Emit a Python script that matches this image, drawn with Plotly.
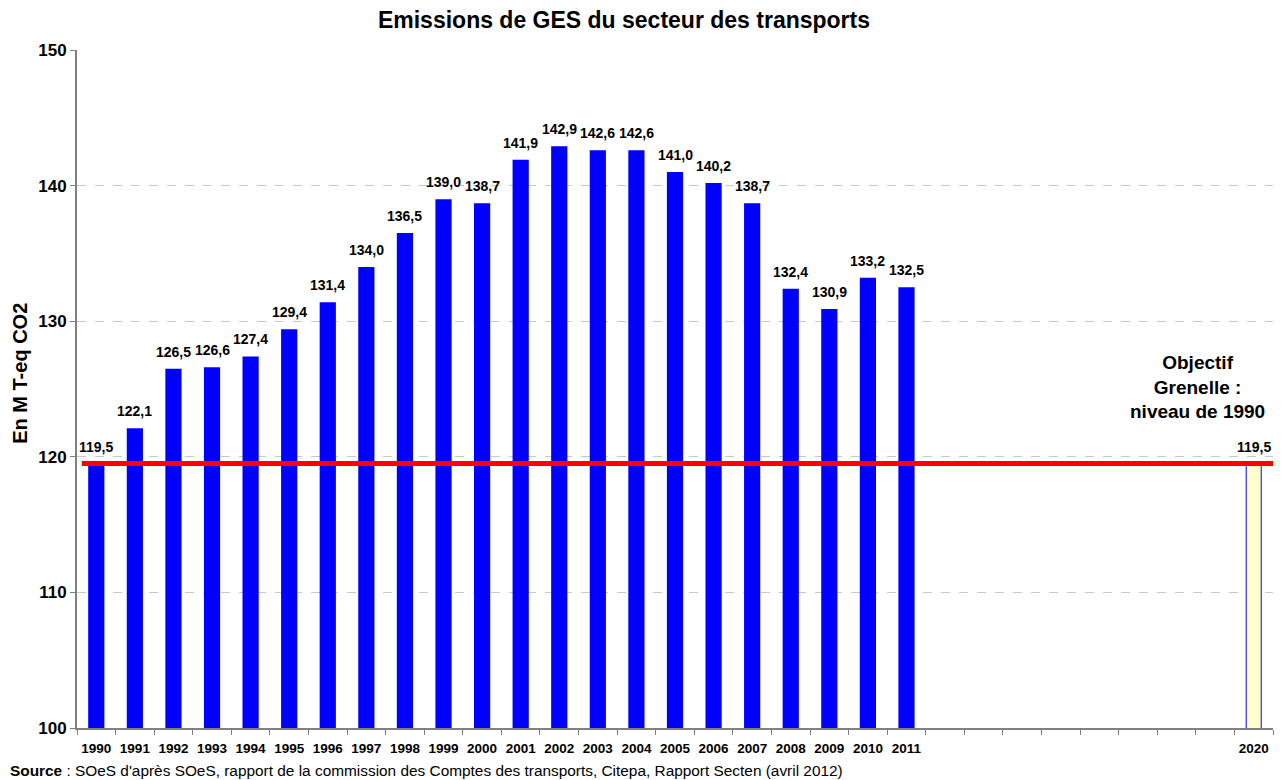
import plotly.graph_objects as go

years = list(range(1990, 2012))
emissions = [119.5, 122.1, 126.5, 126.6, 127.4, 129.4, 131.4, 134.0, 136.5, 139.0,
             138.7, 141.9, 142.9, 142.6, 142.6, 141.0, 140.2, 138.7, 132.4, 130.9,
             133.2, 132.5]
goal_year = [2020]
goal_value = [119.5]
all_years = list(range(1990, 2021))
tick_labels = [str(y) if (y <= 2011 or y == 2020) else "" for y in all_years]

title = "Emissions de GES du secteur des transports"
y_title = "En M T-eq CO2"
goal_text = "Objectif<br>Grenelle :<br>niveau de 1990"
source_text = ("<b>Source</b> : SOeS d'après SOeS, rapport de la commission des Comptes des "
               "transports, Citepa, Rapport Secten (avril 2012)")

FONT = "Liberation Sans, Arial, sans-serif"


def fr(v):
    return f"{v:.1f}".replace(".", ",")


fig = go.Figure()
fig.add_trace(go.Bar(
    x=years, y=emissions, width=0.42,
    marker=dict(color="#0000FF", line=dict(width=0)),
    showlegend=False, hoverinfo="x+y",
))
fig.add_trace(go.Bar(
    x=goal_year, y=goal_value, width=0.39,
    marker=dict(color="#FFFFCC", line=dict(width=1, color="#0000FF")),
    showlegend=False, hoverinfo="x+y",
))

for xv, yv in list(zip(years, emissions)) + list(zip(goal_year, goal_value)):
    fig.add_annotation(x=xv, y=yv, text=fr(yv), showarrow=False, yshift=17,
                       xanchor="center", yanchor="middle",
                       font=dict(family=FONT, size=14, color="black", weight="bold"))

fig.add_shape(type="line", xref="paper", yref="y", x0=0.004, x1=1.0,
              y0=goal_value[0], y1=goal_value[0],
              line=dict(color="#FF0000", width=5), layer="above")

fig.add_annotation(text=goal_text, xref="paper", yref="paper", x=0.937, y=0.503,
                   xanchor="center", yanchor="middle",
                   showarrow=False, align="center",
                   font=dict(family=FONT, size=19, color="black", weight="bold"))
fig.add_annotation(text=y_title, xref="paper", yref="paper", x=-0.0478, y=0.5236,
                   xanchor="center", yanchor="middle", textangle=-90, showarrow=False,
                   font=dict(family=FONT, size=20, color="black", weight="bold"))
fig.add_annotation(text=source_text, xref="paper", yref="paper", x=-0.0577, y=-0.062,
                   xanchor="left", yanchor="middle", showarrow=False, align="left",
                   font=dict(family=FONT, size=15.4, color="black"))

fig.update_layout(
    width=1274, height=772,
    margin=dict(l=69, r=9, t=42, b=52, autoexpand=False),
    paper_bgcolor="white", plot_bgcolor="white",
    barmode="overlay",
    title=dict(text=title, x=0.4835, xanchor="center", y=0.9845, yanchor="middle",
               font=dict(family=FONT, size=23, color="black", weight="bold")),
    xaxis=dict(
        range=[1989.5, 2020.5], tickvals=all_years, ticktext=tick_labels,
        ticks="outside", ticklen=7, tickcolor="rgba(0,0,0,0)",
        tickfont=dict(family=FONT, size=13.5, color="black", weight="bold"),
        showline=True, linecolor="#808080", linewidth=2, showgrid=False, zeroline=False,
        automargin=False,
        minor=dict(ticks="outside", ticklen=5, tickcolor="#808080", tickwidth=1,
                   tickvals=[y + 0.5 for y in range(1989, 2021)], showgrid=False),
    ),
    yaxis=dict(
        range=[100, 150], dtick=10, tick0=100,
        ticks="outside", ticklen=5, tickcolor="#808080",
        tickfont=dict(family=FONT, size=17, color="black", weight="bold"),
        showline=True, linecolor="#808080", linewidth=2,
        showgrid=True, gridcolor="#C8C8C8", griddash="dash", gridwidth=1,
        zeroline=False, automargin=False,
    ),
)

fig.write_html("out.html")
